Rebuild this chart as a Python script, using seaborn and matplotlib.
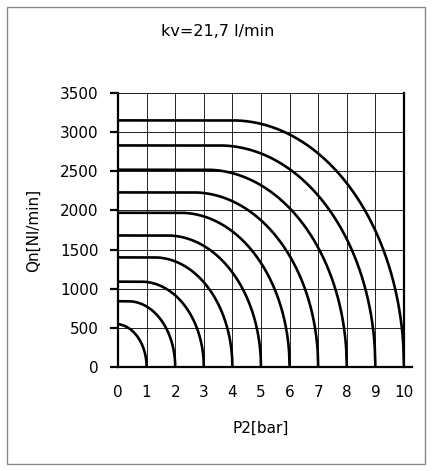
"""Flow characteristic Qn vs P2 for inlet pressures 1..10 bar (kv=21,7 l/min)."""

import numpy as np
import pandas as pd
import matplotlib
matplotlib.use('Agg')
import matplotlib.pyplot as plt
import seaborn as sns
from matplotlib.patches import Rectangle

# Inlet pressures (bar, gauge) and the choked flow
p1_values = [1, 2, 3, 4, 5, 6, 7, 8, 9, 10]
q_max = [550, 840, 1090, 1400, 1680, 1970, 2230, 2520, 2830, 3150]
b_ratio = 0.455
p_atm = 1.013

x_ticks = [0, 1, 2, 3, 4, 5, 6, 7, 8, 9, 10]
y_ticks = [0, 500, 1000, 1500, 2000, 2500, 3000, 3500]
title_text = 'kv=21,7 l/min'
x_label = 'P2[bar]'
y_label = 'Qn[Nl/min]'

# Build curve table: flat (choked) part, then the elliptic subsonic part
rows = []
for p1, qm in zip(p1_values, q_max):
    p2 = np.linspace(0, p1, 400)
    r = (p2 + p_atm) / (p1 + p_atm)
    frac = np.clip((r - b_ratio) / (1 - b_ratio), 0, 1)
    q = qm * np.sqrt(1 - frac ** 2)
    for a, c in zip(p2, q):
        rows.append({'P1': p1, 'P2': a, 'Qn': c})
df = pd.DataFrame(rows)

sns.set_style('white')
plt.rcParams['font.family'] = ['DejaVu Sans']
plt.rcParams['text.color'] = 'black'
plt.rcParams['axes.labelcolor'] = 'black'

fig = plt.figure(figsize=(4.33, 4.71), dpi=100)
ax = fig.add_axes([118 / 433, 1 - 367 / 471, 286 / 433, 274 / 471])

sns.lineplot(data=df, x='P2', y='Qn', hue='P1', palette=['black'] * len(p1_values),
             linewidth=1.9, legend=False, ax=ax, sort=False, estimator=None)

ax.set_xlim(0, 10)
ax.set_ylim(0, 3500)
ax.set_xticks(x_ticks)
ax.set_yticks(y_ticks)
ax.grid(True, color='#222222', linewidth=0.7)
ax.set_axisbelow(True)

for side in ['left', 'bottom', 'right']:
    ax.spines[side].set_linewidth(1.6)
    ax.spines[side].set_color('black')
ax.spines['top'].set_linewidth(0.7)
ax.spines['top'].set_color('#222222')
ax.spines['bottom'].set_bounds(0, 10.28)

ax.tick_params(axis='y', direction='out', length=6, width=1.6, pad=8,
               labelsize=11, colors='black', left=True)
ax.tick_params(axis='x', length=0, pad=13, labelsize=11, colors='black')

ax.set_xlabel(x_label, fontsize=11, labelpad=15, color='black')
ax.set_ylabel(y_label, fontsize=11, labelpad=14, color='black')

fig.text(0.503, 1 - 32 / 471, title_text, ha='center', va='center',
         fontsize=11.5, color='black')

# grey frame around the whole picture
fig.patches.append(Rectangle((7 / 433, 1 - 464 / 471), 418 / 433, 457 / 471,
                             transform=fig.transFigure, fill=False,
                             edgecolor='#888888', linewidth=1))

fig.savefig('out.png', dpi=100)
plt.close(fig)
